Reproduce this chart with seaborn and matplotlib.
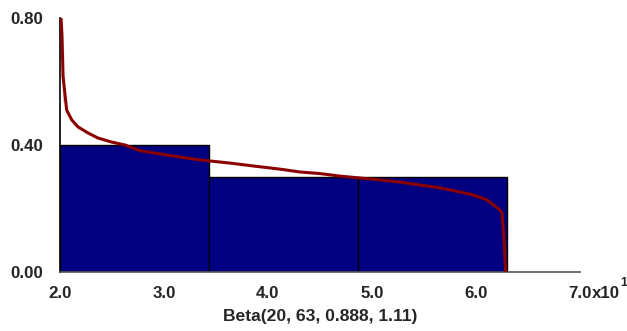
import matplotlib
matplotlib.use("Agg")
import matplotlib.pyplot as plt
import seaborn as sns
import numpy as np

# Histogram bins (real units) and relative frequencies
bin_edges = [20.0, 34.333, 48.667, 63.0]
bin_heights = [0.40, 0.30, 0.30]

# Fitted Beta curve
curve_x = [20.10, 20.19, 20.29, 20.29, 20.64, 21.13, 21.73, 22.69, 23.65, 25.0,
           26.25, 27.69, 29.6, 31.54, 33.46, 36.35, 38.56, 41.15, 43.08, 45.0,
           46.92, 48.85, 50.77, 52.69, 54.62, 56.54, 58.46, 59.71, 61.06, 62.31,
           62.5, 62.7, 62.85]
curve_y = [0.80, 0.746, 0.70, 0.535, 0.510, 0.479, 0.457, 0.438, 0.422, 0.409,
           0.400, 0.382, 0.372, 0.362, 0.353, 0.343, 0.334, 0.324, 0.315, 0.310,
           0.302, 0.296, 0.290, 0.283, 0.274, 0.265, 0.252, 0.243, 0.227, 0.195,
           0.186, 0.10, 0.0]

x_ticks = [20, 30, 40, 50, 60, 70]
x_ticklabels = ["2.0", "3.0", "4.0", "5.0", "6.0", "7.0"]
y_ticks = [0.0, 0.4, 0.8]
y_ticklabels = ["0.00", "0.40", "0.80"]
y_minor = [0.2, 0.6]
xlabel = "Beta(20, 63, 0.888, 1.11)"

sns.set_style("white")
plt.rcParams["font.family"] = ["Liberation Sans", "DejaVu Sans"]

TICK_FS = 12.2

fig = plt.figure(figsize=(6.27, 3.31), dpi=100)
ax = fig.add_axes([60 / 627, 59 / 331, 520 / 627, 254 / 331])

centers = [(bin_edges[i] + bin_edges[i + 1]) / 2 for i in range(len(bin_heights))]
sns.histplot(x=centers, weights=bin_heights, bins=bin_edges, stat="count",
             color="#000080", alpha=1.0, edgecolor="black", linewidth=1.0, ax=ax)
sns.lineplot(x=curve_x, y=curve_y, sort=False, color="#8b0000", linewidth=2.2,
             ax=ax, zorder=3)

ax.set_xlim(20, 70)
ax.set_ylim(0, 0.8)
ax.set_xticks(x_ticks)
ax.set_xticklabels(x_ticklabels)
ax.set_yticks(y_ticks)
ax.set_yticklabels(y_ticklabels)
ax.set_yticks(y_minor, minor=True)

for lab in ax.get_xticklabels() + ax.get_yticklabels():
    lab.set_fontweight("bold")
    lab.set_fontsize(TICK_FS)

ax.tick_params(axis="y", which="both", direction="in", length=8, width=1,
               color="#c0c0c0", pad=12)
ax.tick_params(axis="x", which="both", direction="in", length=4, width=1,
               color="#c0c0c0", pad=10)

ax.set_xlabel(xlabel, fontsize=12.6, fontweight="bold", labelpad=6)
ax.set_ylabel("")

for s in ["top", "right"]:
    ax.spines[s].set_visible(False)
ax.spines["left"].set_color("black")
ax.spines["left"].set_linewidth(1.2)
ax.spines["bottom"].set_color("#555555")
ax.spines["bottom"].set_linewidth(1.2)

# exponent suffix on last tick label
ax.annotate("x10", xy=(70, 0), xycoords="data", xytext=(8.7, -10),
            textcoords="offset points", ha="left", va="top",
            fontsize=TICK_FS, fontweight="bold", annotation_clip=False)
ax.annotate("1", xy=(70, 0), xycoords="data", xytext=(28.8, -3.6),
            textcoords="offset points", ha="left", va="top",
            fontsize=9, fontweight="bold", annotation_clip=False)

fig.savefig("out.png", dpi=100)
